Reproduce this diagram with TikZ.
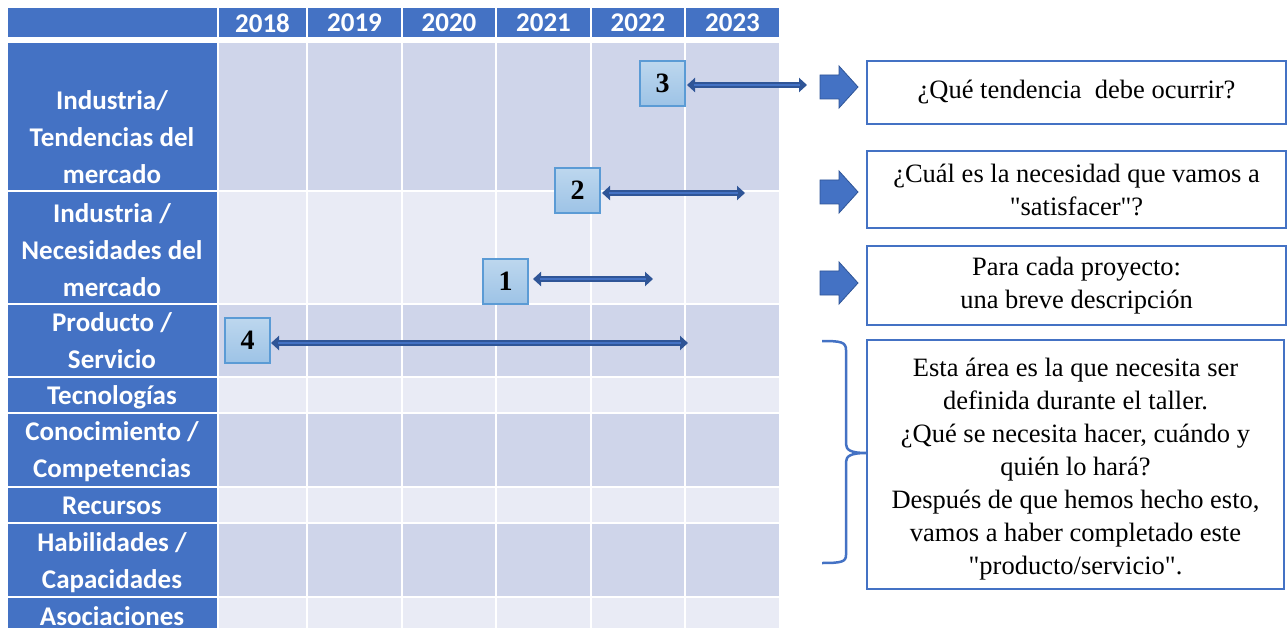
\documentclass[tikz,border=0pt]{standalone}
\usepackage{fontspec}
\setmainfont{Liberation Serif}[Ligatures=TeXOff]
\setsansfont{Carlito}
\usetikzlibrary{arrows.meta}
\definecolor{hdr}{HTML}{4472C4}
\definecolor{cdark}{HTML}{CFD5EA}
\definecolor{clight}{HTML}{E9EBF5}
\definecolor{arr}{HTML}{2F5597}
\definecolor{boxtop}{HTML}{BDD7EE}
\definecolor{boxbot}{HTML}{9DC3E6}
\definecolor{boxline}{HTML}{5B9BD5}
\definecolor{blockline}{HTML}{2F5597}
\begin{document}
\begin{tikzpicture}[x=1pt,y=-1pt,
  lab/.style={text=white, font=\sffamily\bfseries\fontsize{27}{37}\selectfont, align=center, inner sep=0pt},
  yr/.style={text=white, font=\sffamily\bfseries\fontsize{27}{30}\selectfont, inner sep=0pt},
  numbox/.style={draw=boxline, line width=1.5pt, top color=boxtop, bottom color=boxbot, minimum width=45pt, minimum height=45pt, inner sep=0pt, font=\bfseries\fontsize{28}{30}\selectfont},
  rbox/.style={draw=hdr, line width=2.5pt, fill=white, align=center, inner sep=0pt, font=\fontsize{26.5}{33}\selectfont},
  rtext/.style={align=center, inner sep=0pt, font=\fontsize{26.5}{33}\selectfont},
  dbl/.style={draw=arr, line width=6pt, {Triangle[length=8pt,width=14pt]}-{Triangle[length=8pt,width=14pt]}},
  dblin/.style={draw=hdr, line width=2.5pt, shorten <=7pt, shorten >=7pt},
  blockarrow/.style={fill=hdr, draw=blockline, line width=0.8pt},
  bracestyle/.style={draw=hdr, line width=2.5pt}]
\useasboundingbox (0,0) rectangle (1287,628);
\clip (0,0) rectangle (1287,628);
% header
\fill[hdr] (8,8) rectangle (217,37);
\foreach \a/\b/\y in {219/306/2018,308/401/2019,403/495/2020,497/590/2021,592/684/2022,686/779/2023}{
  \fill[hdr] (\a,8) rectangle (\b,37);
  \node[yr] (y\y) at ({(\a+\b)/2},23) {\y};
}
% rows
\foreach \t/\bb/\c in {43/190/cdark,192/303/clight,305/376/cdark,378/412/clight,414/486/cdark,488/522/clight,524/596/cdark,598/640/clight}{
  \fill[hdr] (8,\t) rectangle (217,\bb);
  \foreach \a/\b in {219/306,308/401,403/495,497/590,592/684,686/779}{
    \fill[\c] (\a,\t) rectangle (\b,\bb);
  }
}
% row labels
\node[lab] (l1) at (112,137) {Industria/\\Tendencias del\\mercado};
\node[lab] (l2) at (112,250) {Industria /\\Necesidades del\\mercado};
\node[lab] (l3) at (112,341) {Producto /\\Servicio};
\node[lab] (l4) at (112,397) {Tecnologías};
\node[lab] (l5) at (112,452) {Conocimiento /\\Competencias};
\node[lab] (l6) at (112,506) {Recursos};
\node[lab] (l7) at (112,563) {Habilidades /\\Capacidades};
\node[lab] (l8) at (112,616) {Asociaciones};
% numbered boxes
\node[numbox] (b3) at (662.5,83.5) {3};
\node[numbox] (b2) at (577.5,190.5) {2};
\node[numbox] (b1) at (505.5,281.5) {1};
\node[numbox] (b4) at (247.5,340.5) {4};
\coordinate (s3) at (687,85);
\coordinate (e3) at (807,85);
\coordinate (s2) at (602,193);
\coordinate (e2) at (745,193);
\coordinate (s1) at (533,279);
\coordinate (e1) at (653,279);
\coordinate (s4) at (271,343);
\coordinate (e4) at (688,343);
\foreach \s/\e in {s3/e3,s2/e2,s1/e1,s4/e4}{
  \draw[dbl] (\s) -- (\e);
  \draw[dblin] (\s) -- (\e);
}
% block arrows
\foreach \c in {87,192,283}{
  \path[blockarrow] (820,\c-12) -- (839,\c-12) -- (839,\c-21) -- (858,\c) -- (839,\c+21) -- (839,\c+12) -- (820,\c+12) -- cycle;
}
% right boxes
\node[rbox, minimum width=419pt, minimum height=63pt] (qa) at (1076.5,92.5) {¿Qué tendencia\ \ debe ocurrir?};
\node[rbox, minimum width=419pt, minimum height=77pt] (qb) at (1076.5,189.5) {¿Cuál es la necesidad que vamos a\\"satisfacer"?};
\node[rbox, minimum width=419pt, minimum height=79pt] (qc) at (1076.5,285.5) {Para cada proyecto:\\una breve descripción};
\node[rbox, minimum width=417pt, minimum height=249pt] (qd) at (1075.5,464.5) {};
\node[rtext] (qdt) at (1075.5,469) {Esta área es la que necesita ser\\definida durante el taller.\\¿Qué se necesita hacer, cuándo y\\quién lo hará?\\Después de que hemos hecho esto,\\vamos a haber completado este\\"producto/servicio".};
% brace
\path[bracestyle] (822,341) .. controls (841,341) and (846,342) .. (846,350) -- (846,444) .. controls (846,450) and (851,453) .. (866,453) .. controls (851,453) and (846,456) .. (846,462) -- (846,555) .. controls (846,562) and (841,563) .. (822,563);
\end{tikzpicture}
\end{document}
